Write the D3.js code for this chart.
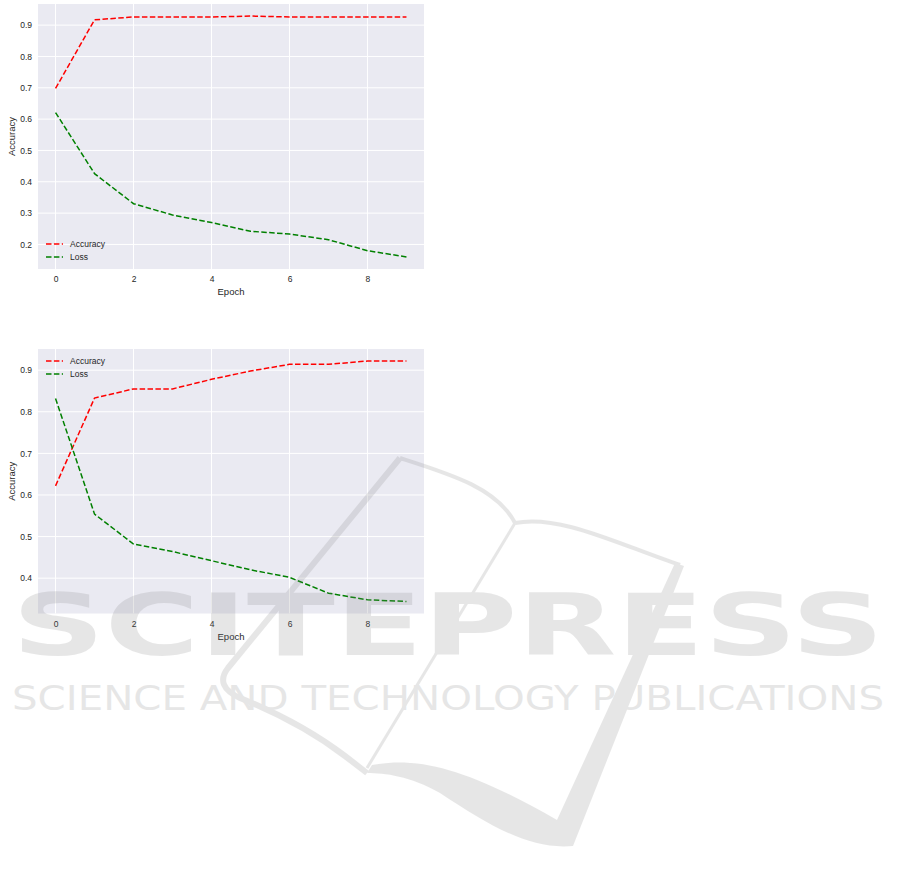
<!DOCTYPE html>
<html>
<head>
<meta charset="utf-8">
<script src="https://cdn.jsdelivr.net/npm/d3@7"></script>
<style>
  html, body { margin: 0; padding: 0; background: #ffffff; }
  svg { display: block; }
</style>
</head>
<body>
<svg id="chart" width="901" height="884"></svg>
<script>
// ---------------- DATA ----------------
const epochs = [0, 1, 2, 3, 4, 5, 6, 7, 8, 9];
const xTicks = [0, 2, 4, 6, 8];

const accuracy1 = [0.698, 0.917, 0.926, 0.926, 0.926, 0.929, 0.926, 0.926, 0.926, 0.926];
const loss1     = [0.621, 0.426, 0.330, 0.294, 0.270, 0.242, 0.233, 0.215, 0.180, 0.160];
const yTicks1   = [0.2, 0.3, 0.4, 0.5, 0.6, 0.7, 0.8, 0.9];

const accuracy2 = [0.622, 0.833, 0.855, 0.855, 0.878, 0.898, 0.914, 0.914, 0.922, 0.922];
const loss2     = [0.832, 0.554, 0.482, 0.464, 0.442, 0.420, 0.402, 0.364, 0.348, 0.344];
const yTicks2   = [0.4, 0.5, 0.6, 0.7, 0.8, 0.9];

const seriesNames = ["Accuracy", "Loss"];
const xLabel = "Epoch";
const yLabel = "Accuracy";
const watermarkTitle = "SCITEPRESS";
const watermarkSub = "SCIENCE AND TECHNOLOGY PUBLICATIONS";

// ---------------- STYLE ----------------
const colors = { Accuracy: "#ff0000", Loss: "#008000" };
const FONT = "'Liberation Sans', Arial, sans-serif";
const bg = "#EAEAF2";
const dash = "5.5,2.4";

const svg = d3.select("#chart");

function drawPanel(cfg) {
  const { left, right, top, bottom, acc, loss, yTicks, legendY } = cfg;
  const g = svg.append("g");

  const xSpan = d3.max(epochs) - d3.min(epochs);
  const x = d3.scaleLinear()
    .domain([d3.min(epochs) - 0.05 * xSpan, d3.max(epochs) + 0.05 * xSpan])
    .range([left, right]);

  const allVals = acc.concat(loss);
  const yMin = d3.min(allVals), yMax = d3.max(allVals);
  const ySpan = yMax - yMin;
  const y = d3.scaleLinear()
    .domain([yMin - 0.05 * ySpan, yMax + 0.05 * ySpan])
    .range([bottom, top]);

  // background
  g.append("rect")
    .attr("x", left).attr("y", top)
    .attr("width", right - left).attr("height", bottom - top)
    .attr("fill", bg);

  // grid
  g.append("g").selectAll("line").data(xTicks).join("line")
    .attr("x1", d => x(d)).attr("x2", d => x(d))
    .attr("y1", top).attr("y2", bottom)
    .attr("stroke", "#ffffff").attr("stroke-width", 1);
  g.append("g").selectAll("line").data(yTicks).join("line")
    .attr("x1", left).attr("x2", right)
    .attr("y1", d => y(d)).attr("y2", d => y(d))
    .attr("stroke", "#ffffff").attr("stroke-width", 1);

  // axes
  const xAxis = g.append("g")
    .attr("transform", `translate(0,${bottom})`)
    .call(d3.axisBottom(x).tickValues(xTicks).tickFormat(d3.format("d")).tickSize(0).tickPadding(7));
  const yAxis = g.append("g")
    .attr("transform", `translate(${left},0)`)
    .call(d3.axisLeft(y).tickValues(yTicks).tickFormat(d3.format(".1f")).tickSize(0).tickPadding(6));
  [xAxis, yAxis].forEach(a => {
    a.select(".domain").remove();
    a.selectAll("text")
      .attr("fill", "#262626")
      .style("font-family", FONT)
      .style("font-size", "8.5px");
  });

  // axis labels
  g.append("text")
    .attr("x", (left + right) / 2)
    .attr("y", bottom + 26)
    .attr("text-anchor", "middle")
    .attr("fill", "#262626")
    .style("font-family", FONT)
    .style("font-size", "9.5px")
    .text(xLabel);
  g.append("text")
    .attr("transform", `translate(15,${(top + bottom) / 2}) rotate(-90)`)
    .attr("text-anchor", "middle")
    .attr("fill", "#262626")
    .style("font-family", FONT)
    .style("font-size", "9.5px")
    .text(yLabel);

  // lines
  const line = d3.line().x((d, i) => x(epochs[i])).y(d => y(d));
  [["Accuracy", acc], ["Loss", loss]].forEach(([name, vals]) => {
    g.append("path")
      .datum(vals)
      .attr("d", line)
      .attr("fill", "none")
      .attr("stroke", colors[name])
      .attr("stroke-width", 1.5)
      .attr("stroke-dasharray", dash);
  });

  // legend
  const lg = g.append("g");
  seriesNames.forEach((name, i) => {
    const ly = legendY + i * 13;
    lg.append("line")
      .attr("x1", 46).attr("x2", 63)
      .attr("y1", ly).attr("y2", ly)
      .attr("stroke", colors[name])
      .attr("stroke-width", 1.5)
      .attr("stroke-dasharray", dash);
    lg.append("text")
      .attr("x", 70).attr("y", ly)
      .attr("dy", "0.35em")
      .attr("fill", "#262626")
      .style("font-family", FONT)
      .style("font-size", "8.5px")
      .text(name);
  });
}

drawPanel({ left: 38, right: 424, top: 4, bottom: 269, acc: accuracy1, loss: loss1, yTicks: yTicks1, legendY: 244 });
drawPanel({ left: 38, right: 424, top: 349, bottom: 613.5, acc: accuracy2, loss: loss2, yTicks: yTicks2, legendY: 361 });

// ---------------- WATERMARK (decorative overlay) ----------------
const wm = svg.append("g").attr("opacity", 0.19);
const wmGray = "#808080";
wm.append("path")
  .attr("d", "M400,458 L228,668 Q214,686 240,698 Q300,722 345,756 L367,773")
  .attr("fill", "none").attr("stroke", wmGray).attr("stroke-width", 6).attr("stroke-linejoin", "round");
wm.append("path")
  .attr("d", "M400,458 C450,474 497,488 515,523")
  .attr("fill", "none").attr("stroke", wmGray).attr("stroke-width", 4);
wm.append("path")
  .attr("d", "M515,523 L367,768")
  .attr("fill", "none").attr("stroke", wmGray).attr("stroke-width", 3);
wm.append("path")
  .attr("d", "M515,523 C560,514 620,545 680,565")
  .attr("fill", "none").attr("stroke", wmGray).attr("stroke-width", 4);
wm.append("path")
  .attr("d", "M684,566 L573,846 C530,850 490,826 440,793 C410,776 385,773 367,773 L372,765 C420,756 470,770 557,820 L675,563 Z")
  .attr("fill", wmGray);
wm.append("text")
  .attr("x", 12).attr("y", 655)
  .attr("textLength", 872).attr("lengthAdjust", "spacingAndGlyphs")
  .attr("fill", wmGray)
  .style("font-family", "'DejaVu Sans', sans-serif")
  .style("font-weight", "bold")
  .style("font-size", "86px")
  .text(watermarkTitle);
wm.append("text")
  .attr("x", 12).attr("y", 710)
  .attr("textLength", 872).attr("lengthAdjust", "spacingAndGlyphs")
  .attr("fill", wmGray)
  .style("font-family", "'DejaVu Sans', sans-serif")
  .style("font-weight", "normal")
  .style("font-size", "34px")
  .text(watermarkSub);
</script>
</body>
</html>
